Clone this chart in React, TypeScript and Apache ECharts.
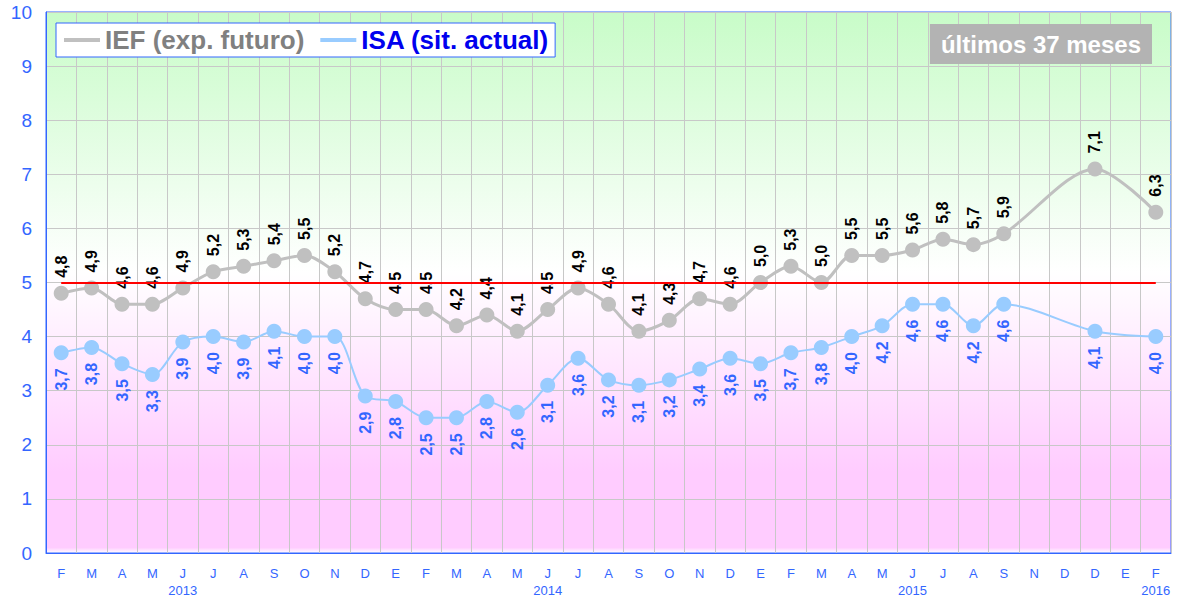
import React, { useEffect, useRef } from "react";
import * as echarts from "echarts";

const months = ["F","M","A","M","J","J","A","S","O","N","D","E","F","M","A","M","J","J","A","S","O","N","D","E","F","M","A","M","J","J","A","S","N","D","D","E","F"];
const years = ["","","","","2013","","","","","","","","","","","","2014","","","","","","","","","","","","2015","","","","","","","","2016"];
const ief = [4.8,4.9,4.6,4.6,4.9,5.2,5.3,5.4,5.5,5.2,4.7,4.5,4.5,4.2,4.4,4.1,4.5,4.9,4.6,4.1,4.3,4.7,4.6,5.0,5.3,5.0,5.5,5.5,5.6,5.8,5.7,5.9,null,null,7.1,null,6.3];
const isa = [3.7,3.8,3.5,3.3,3.9,4.0,3.9,4.1,4.0,4.0,2.9,2.8,2.5,2.5,2.8,2.6,3.1,3.6,3.2,3.1,3.2,3.4,3.6,3.5,3.7,3.8,4.0,4.2,4.6,4.6,4.2,4.6,null,null,4.1,null,4.0];
const refLevel = 5;

const FONT = "'Liberation Sans', Arial, sans-serif";
const fmt = (p: any) => (p.value == null ? "" : Number(p.value).toFixed(1).replace(".", ","));

export default function App() {
  const ref = useRef<HTMLDivElement>(null);
  useEffect(() => {
    const chart = echarts.init(ref.current!, undefined, { renderer: "svg" });
    chart.setOption({
      animation: false,
      textStyle: { fontFamily: FONT },
      title: {
        text: "últimos 37 meses",
        right: 28,
        top: 24,
        backgroundColor: "#b3b3b3",
        padding: [8, 11, 8, 11],
        textStyle: { color: "#ffffff", fontSize: 24, fontWeight: "bold", fontFamily: FONT },
      },
      legend: {
        left: 56,
        top: 23,
        backgroundColor: "#ffffff",
        borderColor: "#3366ff",
        borderWidth: 1,
        padding: [4, 6, 4, 8],
        itemGap: 16,
        itemWidth: 36,
        itemHeight: 4,
        icon: "rect",
        textStyle: { fontSize: 26, fontWeight: "bold", fontFamily: FONT },
        data: [
          { name: "IEF (exp. futuro)", textStyle: { color: "#808080" }, itemStyle: { color: "#c0c0c0" } },
          { name: "ISA (sit. actual)", textStyle: { color: "#0000ee" }, itemStyle: { color: "#99ccff" } },
        ],
      },
      grid: {
        left: 46,
        right: 9,
        top: 12,
        bottom: 48,
        show: true,
        borderColor: "#3366ff",
        borderWidth: 1,
        backgroundColor: new echarts.graphic.LinearGradient(0, 0, 0, 1, [
          { offset: 0, color: "#c8fcc8" },
          { offset: 0.48, color: "#ffffff" },
          { offset: 0.85, color: "#ffccff" },
          { offset: 0.99, color: "#ffccff" },
          { offset: 1, color: "#ffffff" },
        ]),
      },
      xAxis: {
        type: "category",
        data: months,
        boundaryGap: true,
        axisTick: { show: false },
        axisLine: { lineStyle: { color: "#3366ff", width: 1 } },
        splitLine: { show: true, lineStyle: { color: "#c8c8c8", width: 1 } },
        axisLabel: {
          interval: 0,
          margin: 12,
          fontSize: 13,
          lineHeight: 17,
          color: "#3366ff",
          fontFamily: FONT,
          formatter: (v: string, i: number) => (years[i] ? v + "\n" + years[i] : v),
        },
      },
      yAxis: {
        type: "value",
        min: 0,
        max: 10,
        interval: 1,
        axisLine: { show: true, lineStyle: { color: "#3366ff", width: 1 } },
        axisTick: { show: false },
        splitLine: { lineStyle: { color: "#c8c8c8", width: 1 } },
        axisLabel: { fontSize: 19, color: "#3366ff", margin: 14, fontFamily: FONT },
      },
      series: [
        {
          name: "ISA (sit. actual)",
          type: "line",
          z: 2,
          data: isa,
          smooth: 0.3,
          connectNulls: true,
          symbol: "circle",
          symbolSize: 15,
          lineStyle: { color: "#99ccff", width: 2 },
          itemStyle: { color: "#99ccff" },
          label: {
            show: true,
            position: "bottom",
            distance: 8,
            rotate: 90,
            align: "right",
            verticalAlign: "middle",
            color: "#3366ff",
            fontSize: 16,
            fontWeight: "bold",
            fontFamily: FONT,
            formatter: fmt,
          },
          markLine: {
            silent: true,
            symbol: "none",
            label: { show: false },
            lineStyle: { color: "#ff0000", width: 2, type: "solid" },
            data: [[{ coord: [0, refLevel] }, { coord: [months.length - 1, refLevel] }]],
          },
        },
        {
          name: "IEF (exp. futuro)",
          type: "line",
          z: 3,
          data: ief,
          smooth: 0.3,
          connectNulls: true,
          symbol: "circle",
          symbolSize: 15,
          lineStyle: { color: "#c0c0c0", width: 3 },
          itemStyle: { color: "#c0c0c0" },
          label: {
            show: true,
            position: "top",
            distance: 8,
            rotate: 90,
            align: "left",
            verticalAlign: "middle",
            color: "#000000",
            fontSize: 16,
            fontWeight: "bold",
            fontFamily: FONT,
            formatter: fmt,
          },
        },
      ],
    });
    return () => chart.dispose();
  }, []);
  return (
    <div
      ref={ref}
      style={{ position: "fixed", left: 0, top: 0, width: 1180, height: 601, background: "#ffffff" }}
    />
  );
}
